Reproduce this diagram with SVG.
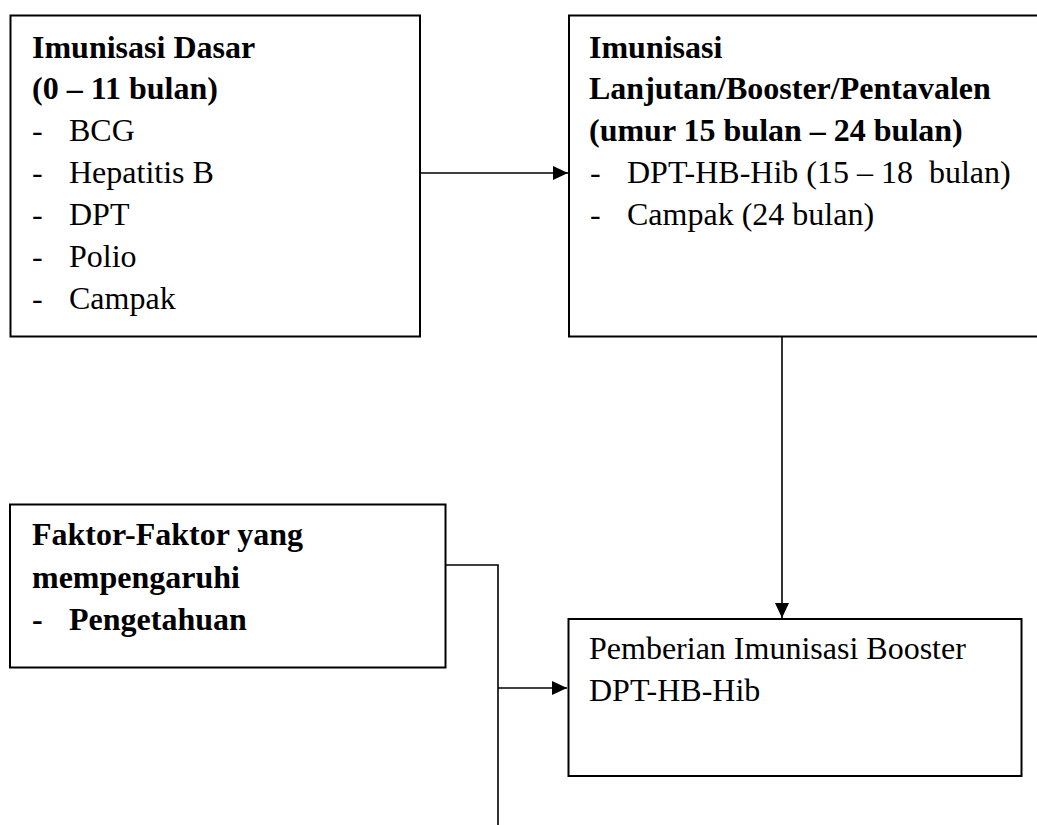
<svg xmlns="http://www.w3.org/2000/svg" width="1037" height="825" viewBox="0 0 1037 825">
<style>
.box{fill:#fff;stroke:#000;stroke-width:2}
.t{font-family:"Liberation Serif","Times New Roman",serif;font-size:32px;fill:#000;white-space:pre}
.b{font-weight:bold}
.ln{fill:none;stroke:#000;stroke-width:1.6}
</style>
<defs>
<marker id="ah" markerUnits="userSpaceOnUse" markerWidth="16" markerHeight="14" refX="15" refY="7" orient="auto">
<path d="M0,0 L15,7 L0,14 Z" fill="#000"/>
</marker>
</defs>
<rect width="1037" height="825" fill="#fff"/>
<g id="connectors">
<line class="ln" x1="421" y1="173" x2="568" y2="173" marker-end="url(#ah)"/>
<line class="ln" x1="782" y1="337" x2="782" y2="618" marker-end="url(#ah)"/>
<polyline class="ln" points="446,565 498,565 498,825"/>
<line class="ln" x1="498" y1="688" x2="567" y2="688" marker-end="url(#ah)"/>
</g>
<g id="n1">
<rect class="box" x="10.5" y="15.5" width="409.5" height="321"/>
<text class="t b" x="32" y="58">Imunisasi Dasar</text>
<text class="t b" x="32" y="99">(0 – 11 bulan)</text>
<text class="t" x="32" y="141">-</text><text class="t" x="69" y="141">BCG</text>
<text class="t" x="32" y="183">-</text><text class="t" x="69" y="183">Hepatitis B</text>
<text class="t" x="32" y="225">-</text><text class="t" x="69" y="225">DPT</text>
<text class="t" x="32" y="267">-</text><text class="t" x="69" y="267">Polio</text>
<text class="t" x="32" y="309">-</text><text class="t" x="69" y="309">Campak</text>
</g>
<g id="n2">
<rect class="box" x="569" y="15.5" width="480" height="321"/>
<text class="t b" x="589" y="58">Imunisasi</text>
<text class="t b" x="589" y="99">Lanjutan/Booster/Pentavalen</text>
<text class="t b" x="589" y="141">(umur 15 bulan – 24 bulan)</text>
<text class="t" x="590" y="183">-</text><text class="t" x="627" y="183">DPT-HB-Hib (15 – 18  bulan)</text>
<text class="t" x="590" y="225">-</text><text class="t" x="627" y="225">Campak (24 bulan)</text>
</g>
<g id="n3">
<rect class="box" x="10" y="504.5" width="435.5" height="163"/>
<text class="t b" x="32" y="545">Faktor-Faktor yang</text>
<text class="t b" x="32" y="588">mempengaruhi</text>
<text class="t b" x="32" y="630">-</text><text class="t b" x="69" y="630">Pengetahuan</text>
</g>
<g id="n4">
<rect class="box" x="568.5" y="619" width="453" height="157"/>
<text class="t" x="589" y="659">Pemberian Imunisasi Booster</text>
<text class="t" x="589" y="701">DPT-HB-Hib</text>
</g>
</svg>
